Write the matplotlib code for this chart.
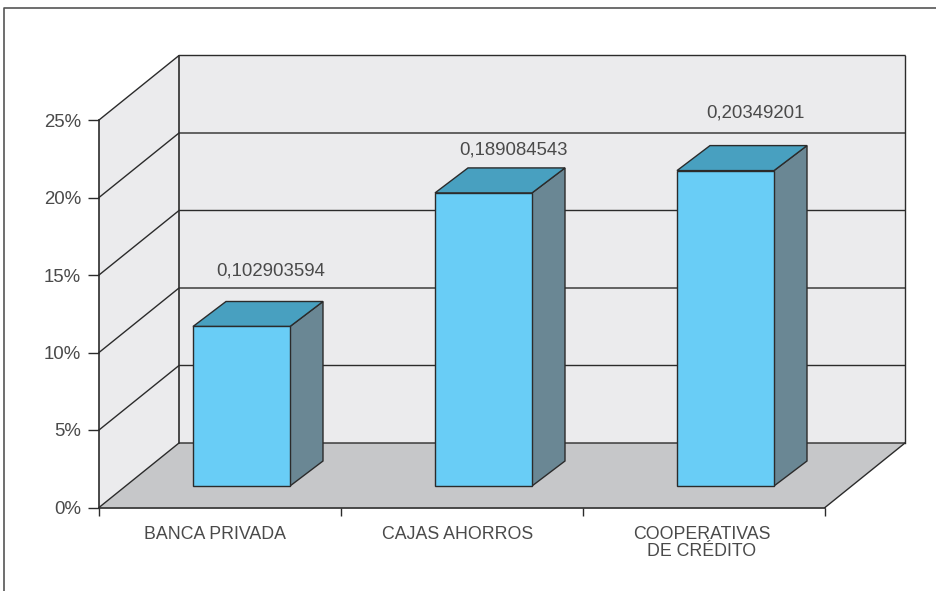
import matplotlib
matplotlib.use('Agg')
import matplotlib.pyplot as plt
from matplotlib.lines import Line2D
from matplotlib.patches import Polygon, Rectangle

# Data
categories = ['BANCA PRIVADA', 'CAJAS AHORROS', 'COOPERATIVAS\nDE CRÉDITO']
values = [0.102903594, 0.189084543, 0.20349201]
value_labels = ['0,102903594', '0,189084543', '0,20349201']
y_ticks = [0, 0.05, 0.10, 0.15, 0.20, 0.25]
y_tick_labels = ['0%', '5%', '10%', '15%', '20%', '25%']

W, H = 936, 591
plt.rcParams['font.family'] = ['Liberation Sans', 'DejaVu Sans']
text_col = '#4a4a4a'
line_col = '#2b2b2b'

fig = plt.figure(figsize=(W / 100, H / 100), dpi=100, facecolor='white')
# front plane of the 3d box, in pixels: x 99-825, y 120-507.5
ax = fig.add_axes([99 / W, 1 - 507.5 / H, 726 / W, 387.5 / H])
ax.set_xlim(0, 3)
ax.set_ylim(0, 0.25)
ax.patch.set_visible(False)

# depth of the box in data units
dx = 80 / 242
dy = 64.5 / 1550
# bar placement inside the box
bar_w = 97 / 242
bar_shift = 21.5 / 242
front_dy = 21.5 / 1550
side_dx = 33 / 242
side_dy = 25 / 1550
# value labels sit at uneven heights above the bars
label_shift = 13 / 242
label_gaps = [30 / 1550, 18 / 1550, 33 / 1550]

# walls and floor
ax.add_patch(Polygon([(0, 0), (dx, dy), (3 + dx, dy), (3 + dx, 0.25 + dy), (dx, 0.25 + dy), (0, 0.25)],
                     closed=True, fc='#ebebed', ec='none', clip_on=False, zorder=1))
ax.add_patch(Polygon([(0, 0), (3, 0), (3 + dx, dy), (dx, dy)],
                     closed=True, fc='#c6c7c9', ec='none', clip_on=False, zorder=1))

# gridlines on both walls
for t in y_ticks:
    ax.plot([0, dx, 3 + dx], [t, t + dy, t + dy], color=line_col, lw=1.0, clip_on=False, zorder=2)
ax.plot([dx, dx], [dy, 0.25 + dy], color=line_col, lw=1.2, clip_on=False, zorder=2)
ax.plot([3 + dx, 3 + dx], [dy, 0.25 + dy], color=line_col, lw=1.0, clip_on=False, zorder=2)
ax.plot([3, 3 + dx], [0, dy], color=line_col, lw=1.0, clip_on=False, zorder=2)

# bars
for i, v in enumerate(values):
    x0 = i + 0.5 - bar_w / 2 + bar_shift
    x1 = x0 + bar_w
    y0 = front_dy
    y1 = front_dy + v
    ax.add_patch(Polygon([(x1, y0), (x1 + side_dx, y0 + side_dy), (x1 + side_dx, y1 + side_dy), (x1, y1)],
                         closed=True, fc='#6a8794', ec=line_col, lw=1.0, clip_on=False, zorder=3))
    ax.add_patch(Polygon([(x0, y1), (x1, y1), (x1 + side_dx, y1 + side_dy), (x0 + side_dx, y1 + side_dy)],
                         closed=True, fc='#48a0c0', ec=line_col, lw=1.0, clip_on=False, zorder=3))
    ax.add_patch(Rectangle((x0, y0), bar_w, v, fc='#69cdf6', ec=line_col, lw=1.0, clip_on=False, zorder=4))
    ax.text((x0 + x1 + side_dx) / 2 + label_shift, y1 + side_dy + label_gaps[i], value_labels[i],
            ha='center', va='center', fontsize=13.4, color=text_col, zorder=5)

# axes
for s in ['top', 'right']:
    ax.spines[s].set_visible(False)
for s in ['left', 'bottom']:
    ax.spines[s].set_color(line_col)
    ax.spines[s].set_linewidth(1.2)
    ax.spines[s].set_zorder(6)
ax.set_yticks(y_ticks)
ax.set_yticklabels(y_tick_labels, fontsize=13.4, color=text_col)
ax.tick_params(axis='y', length=8, width=1.0, color=line_col, pad=5)
ax.set_xticks([0, 1, 2, 3])
ax.set_xticklabels([])
ax.tick_params(axis='x', which='major', length=6, width=1.0, color=line_col)
ax.set_xticks([0.48, 1.48, 2.49], minor=True)
ax.set_xticklabels(categories, minor=True, fontsize=12.8, color=text_col, linespacing=1.05, va='top')
ax.tick_params(axis='x', which='minor', length=0, pad=13)

# outer frame, only top and left are inside the picture
fig.add_artist(Line2D([4 / W, 4 / W, 1], [0, 1 - 8 / H, 1 - 8 / H], transform=fig.transFigure,
                      color='#555555', lw=1.2))

fig.savefig('out.png', dpi=100)
